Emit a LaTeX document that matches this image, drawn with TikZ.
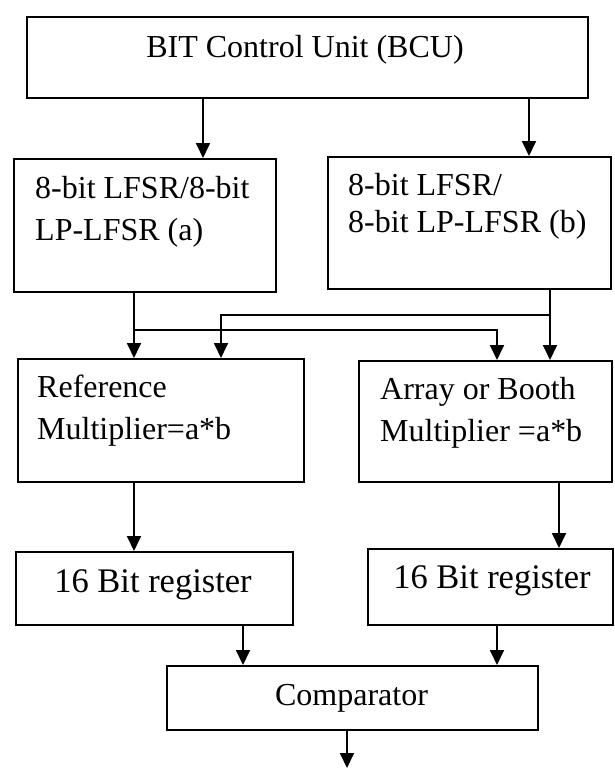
\documentclass[tikz,border=0pt]{standalone}
\usepackage{fontspec}
\setmainfont{Liberation Serif}
\usetikzlibrary{arrows.meta}
\begin{document}
\begin{tikzpicture}[x=1pt,y=-1pt,
  box/.style={draw,line width=1.8pt,rectangle,inner sep=0pt,anchor=north west},
  lbl/.style={inner sep=0pt,font=\fontsize{32}{38}\selectfont},
  biglbl/.style={inner sep=0pt,font=\fontsize{34.5}{40}\selectfont},
  arr/.style={line width=1.8pt,-{Triangle[width=14pt,length=15pt]}}]
\useasboundingbox (0,0) rectangle (614,769);
% boxes
\node[box,minimum width=561pt,minimum height=81pt] (bcu) at (26,16) {};
\node[box,minimum width=262pt,minimum height=133pt] (lfsra) at (13,158) {};
\node[box,minimum width=283pt,minimum height=132pt] (lfsrb) at (327,156) {};
\node[box,minimum width=286pt,minimum height=123pt] (refm) at (17,358) {};
\node[box,minimum width=253pt,minimum height=121pt] (arrm) at (358,360) {};
\node[box,minimum width=277pt,minimum height=73pt] (regl) at (15,551) {};
\node[box,minimum width=245pt,minimum height=76pt] (regr) at (367,548) {};
\node[box,minimum width=371pt,minimum height=64pt] (comp) at (166,665) {};
% texts
\node[lbl,anchor=base] (bcut) at (305,57) {BIT Control Unit (BCU)};
\node[lbl,anchor=base west] (lfsrat1) at (35,198) {8-bit LFSR/8-bit};
\node[lbl,anchor=base west] (lfsrat2) at (35,240) {LP-LFSR (a)};
\node[lbl,anchor=base west] (lfsrbt1) at (348,195) {8-bit LFSR/};
\node[lbl,anchor=base west] (lfsrbt2) at (348,232) {8-bit LP-LFSR (b)};
\node[lbl,anchor=base west] (refmt1) at (37,397) {Reference};
\node[lbl,anchor=base west] (refmt2) at (37,439) {Multiplier=a*b};
\node[lbl,anchor=base west] (arrmt1) at (380,399) {Array or Booth};
\node[lbl,anchor=base west] (arrmt2) at (380,441) {Multiplier =a*b};
\node[biglbl,anchor=base] (reglt) at (153,592) {16 Bit register};
\node[biglbl,anchor=base] (regrt) at (492,588) {16 Bit register};
\node[lbl,anchor=base] (compt) at (351.5,705) {Comparator};
% helper coordinates
\coordinate (xa) at (203,0);
\coordinate (xb) at (529,0);
\coordinate (xc) at (134,0);
\coordinate (xd) at (550,0);
\coordinate (xe) at (221,0);
\coordinate (xf) at (497,0);
\coordinate (xg) at (559,0);
\coordinate (xh) at (243,0);
\coordinate (xo) at (347,0);
\coordinate (ya) at (0,330);
\coordinate (yb) at (0,315);
\coordinate (out) at (347,768);
% connectors
\draw[arr] (bcu.south -| xa) -- (lfsra.north -| xa);
\draw[arr] (bcu.south -| xb) -- (lfsrb.north -| xb);
\draw[arr] (lfsra.south -| xc) -- (refm.north -| xc);
\draw[arr] (ya -| xc) -- (ya -| xf) -- (arrm.north -| xf);
\draw[arr] (lfsrb.south -| xd) -- (arrm.north -| xd);
\draw[arr] (yb -| xd) -- (yb -| xe) -- (refm.north -| xe);
\draw[arr] (refm.south -| xc) -- (regl.north -| xc);
\draw[arr] (arrm.south -| xg) -- (regr.north -| xg);
\draw[arr] (regl.south -| xh) -- (comp.north -| xh);
\draw[arr] (regr.south -| xf) -- (comp.north -| xf);
\draw[arr] (comp.south -| xo) -- (out);
\end{tikzpicture}
\end{document}
